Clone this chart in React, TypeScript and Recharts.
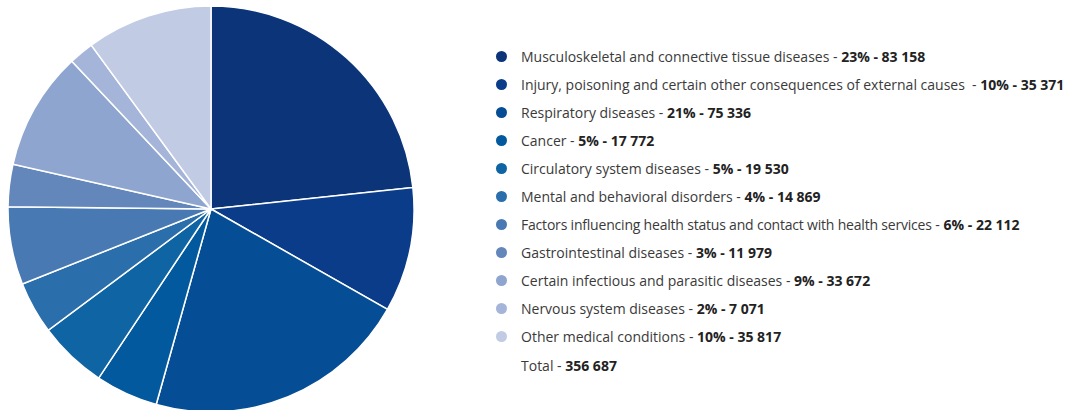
import { Legend, Pie, PieChart, Cell } from 'recharts'

const categories = [
  'Musculoskeletal and connective tissue diseases',
  'Injury, poisoning and certain other consequences of external causes ',
  'Respiratory diseases',
  'Cancer',
  'Circulatory system diseases',
  'Mental and behavioral disorders',
  'Factors influencing health status and contact with health services',
  'Gastrointestinal diseases',
  'Certain infectious and parasitic diseases',
  'Nervous system diseases',
  'Other medical conditions',
]
const values = [83158, 35371, 75336, 17772, 19530, 14869, 22112, 11979, 33672, 7071, 35817]
const percents = ['23%', '10%', '21%', '5%', '5%', '4%', '6%', '3%', '9%', '2%', '10%']
const valueLabels = ['83 158', '35 371', '75 336', '17 772', '19 530', '14 869', '22 112', '11 979', '33 672', '7 071', '35 817']
const totalLabel = '356 687'

const colors = [
  '#0b3479',
  '#0a3c8a',
  '#054d94',
  '#03599e',
  '#0f64a3',
  '#2a6fab',
  '#4879b2',
  '#6386bb',
  '#8ea5cf',
  '#a5b5da',
  '#c1cbe4',
]

const data = categories.map((name, i) => ({ name, value: values[i] }))

const FONT = '"Open Sans", sans-serif'
const ROW = 28.1

function LegendList() {
  return (
    <div style={{ fontFamily: FONT, fontSize: 14, color: '#3a3a3a' }}>
      {categories.map((name, i) => (
        <div
          key={name}
          style={{ display: 'flex', alignItems: 'center', height: ROW, whiteSpace: 'pre' }}
        >
          <span
            style={{
              display: 'inline-block',
              width: 11,
              height: 11,
              borderRadius: '50%',
              background: colors[i],
              marginRight: 14,
            }}
          />
          <span style={i === 6 ? { letterSpacing: -0.2 } : undefined}>{name}</span>
          <span> - </span>
          <b style={{ color: '#222' }}>
            {percents[i]} - {valueLabels[i]}
          </b>
        </div>
      ))}
      <div style={{ display: 'flex', alignItems: 'center', height: ROW, paddingLeft: 25, whiteSpace: 'pre' }}>
        <span>Total - </span>
        <b style={{ color: '#222' }}>{totalLabel}</b>
      </div>
    </div>
  )
}

export default function App() {
  return (
    <div style={{ position: 'absolute', left: 0, top: 0, background: '#fff' }}>
      <style>{'body{margin:0}'}</style>
      <PieChart width={1083} height={410} margin={{ top: 0, right: 0, bottom: 0, left: 0 }}>
        <Pie
          data={data}
          dataKey="value"
          nameKey="name"
          cx={211}
          cy={209}
          outerRadius={203}
          startAngle={90}
          endAngle={-270}
          stroke="#ffffff"
          strokeWidth={1.5}
          isAnimationActive={false}
        >
          {data.map((d, i) => (
            <Cell key={d.name} fill={colors[i]} />
          ))}
        </Pie>
        <Legend
          layout="vertical"
          content={() => <LegendList />}
          wrapperStyle={{ position: 'absolute', left: 496, top: 42, width: 590 }}
        />
      </PieChart>
    </div>
  )
}
